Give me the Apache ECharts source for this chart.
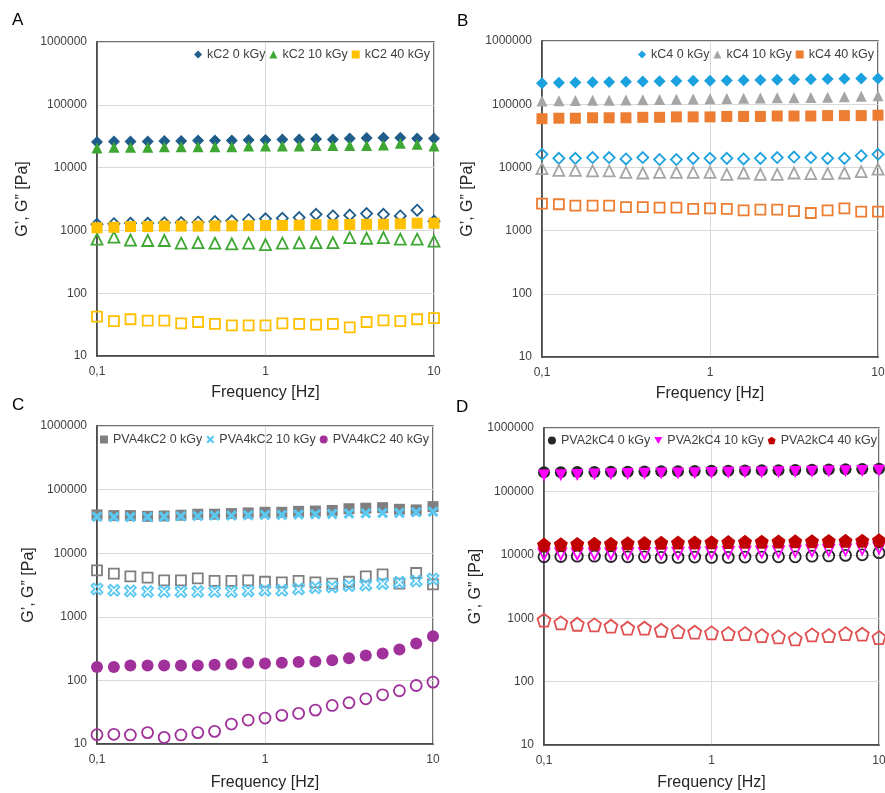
<!DOCTYPE html>
<html>
<head>
<meta charset="utf-8">
<script src="https://cdn.jsdelivr.net/npm/echarts@6/dist/echarts.min.js"></script>
<style>html,body{margin:0;padding:0;background:#fff;}#c{width:885px;height:793px;}</style>
</head>
<body>
<div id="c"></div>
<script>
// Frequency points (Hz)
const freq = [0.1, 0.126, 0.158, 0.2, 0.251, 0.316, 0.398, 0.501, 0.631, 0.794, 1, 1.259, 1.585, 1.995, 2.512, 3.162, 3.981, 5.012, 6.31, 7.943, 10];
const xTickLabels = ['0,1', '1', '10'];
const yTickLabels = ['10', '100', '1000', '10000', '100000', '1000000'];

// Panel A
const kC2_0_Gp  = [25500, 26000, 26000, 26000, 26500, 26500, 27000, 27000, 27000, 27500, 27500, 28000, 28000, 28500, 28000, 29000, 29500, 30000, 30000, 29000, 29000];
const kC2_0_Gpp = [1250, 1280, 1300, 1300, 1320, 1330, 1350, 1380, 1420, 1480, 1530, 1560, 1600, 1800, 1700, 1750, 1850, 1800, 1700, 2100, 1400];
const kC2_10_Gp  = [20500, 21000, 21000, 21000, 21500, 21500, 21500, 21500, 21500, 22000, 22000, 22000, 22000, 22500, 22500, 22500, 22500, 23000, 24500, 23500, 22000];
const kC2_10_Gpp = [725, 780, 700, 690, 690, 625, 640, 625, 610, 625, 595, 625, 635, 640, 640, 770, 750, 770, 725, 725, 675];
const kC2_40_Gp  = [1100, 1120, 1150, 1150, 1170, 1170, 1170, 1180, 1180, 1190, 1200, 1200, 1210, 1230, 1230, 1240, 1250, 1250, 1270, 1300, 1300];
const kC2_40_Gpp = [42.4, 36, 38.5, 36.6, 36.6, 33, 34.8, 32.4, 30.8, 30.8, 30.8, 33, 32.4, 31.6, 32.4, 28.6, 34.8, 37, 36, 38.5, 40];

// Panel B
const kC4_0_Gp  = [215000, 218000, 220000, 222000, 224000, 226000, 228000, 230000, 232000, 234000, 236000, 238000, 240000, 242000, 244000, 246000, 248000, 250000, 252000, 254000, 256000];
const kC4_0_Gpp = [16100, 13900, 13900, 14300, 14300, 13600, 14300, 13300, 13300, 13900, 13900, 13900, 13600, 13900, 14300, 14600, 14300, 13900, 13900, 15300, 16100];
const kC4_10_Gp  = [112000, 113000, 114000, 115000, 116000, 117000, 118000, 119000, 120000, 121000, 122000, 123000, 124000, 125000, 126000, 127000, 128000, 129000, 131000, 133000, 136000];
const kC4_10_Gpp = [9550, 9000, 9000, 8800, 8800, 8350, 8150, 8350, 8350, 8350, 8350, 7760, 8150, 7760, 7760, 8150, 7950, 7950, 8150, 8560, 9400];
const kC4_40_Gp  = [59000, 60000, 60000, 61000, 61000, 61000, 62000, 62000, 63000, 63000, 63000, 64000, 64000, 64000, 65000, 65000, 65000, 66000, 66000, 66000, 67000];
const kC4_40_Gpp = [2670, 2610, 2480, 2480, 2480, 2360, 2360, 2310, 2310, 2200, 2250, 2200, 2090, 2140, 2140, 2040, 1900, 2090, 2250, 1990, 1990];

// Panel C
const pva4_0_Gp  = [40000, 39000, 39000, 38000, 38500, 39500, 41000, 41000, 42000, 43000, 44000, 44000, 45500, 46000, 47000, 50000, 51000, 52000, 49000, 48000, 54000];
const pva4_0_Gpp = [5370, 4760, 4330, 4120, 3740, 3740, 4020, 3660, 3660, 3740, 3560, 3480, 3660, 3480, 3320, 3560, 4330, 4650, 3320, 4880, 3240];
const pva4_10_Gp  = [37500, 37000, 37000, 37000, 37500, 38000, 38500, 39000, 39000, 39500, 40000, 40000, 40500, 41000, 41500, 42000, 42500, 43000, 43000, 44000, 45000];
const pva4_10_Gpp = [2740, 2610, 2550, 2490, 2490, 2490, 2490, 2490, 2490, 2550, 2610, 2610, 2740, 2870, 2940, 3090, 3170, 3320, 3480, 3660, 3930];
const pva4_40_Gp  = [163, 163, 171, 171, 171, 171, 171, 176, 180, 189, 185, 189, 194, 198, 208, 223, 246, 265, 306, 380, 495];
const pva4_40_Gpp = [14.0, 14.2, 13.9, 15.1, 12.7, 13.9, 15.1, 15.8, 20.6, 23.8, 25.6, 28.2, 30.3, 34.1, 40.4, 44.5, 51.4, 59.4, 68.7, 83.2, 94];

// Panel D
const pva2_0_Gp  = [200000, 200000, 202000, 203000, 204000, 205000, 206000, 207000, 208000, 210000, 211000, 212000, 214000, 215000, 216000, 218000, 220000, 222000, 224000, 226000, 228000];
const pva2_0_Gpp = [9300, 9400, 9500, 9500, 9400, 9300, 9300, 9100, 9100, 9200, 9100, 9100, 9200, 9200, 9300, 9300, 9500, 9600, 9800, 10000, 10800];
const pva2_10_Gp  = [178000, 180000, 182000, 184000, 186000, 188000, 190000, 191000, 192000, 194000, 195000, 196000, 198000, 199000, 200000, 202000, 204000, 206000, 207000, 209000, 212000];
const pva2_10_Gpp = [10200, 10300, 10300, 10300, 10400, 10400, 10500, 10500, 10600, 10700, 10800, 10900, 11000, 11100, 11200, 11400, 11600, 11800, 12000, 12300, 12800];
const pva2_40_Gp  = [14500, 14700, 14800, 15000, 15000, 15200, 15400, 15500, 15600, 15700, 15800, 15900, 16000, 16100, 16200, 16300, 16400, 16500, 16600, 16700, 17000];
const pva2_40_Gpp = [930, 843, 803, 785, 748, 695, 695, 646, 616, 601, 587, 573, 573, 532, 507, 472, 546, 532, 573, 559, 495];

const FONT = 'Liberation Sans, Arial, Helvetica, sans-serif';
const SYM = {
  pentagon: 'path://M0,-1L0.951,-0.309L0.588,0.809L-0.588,0.809L-0.951,-0.309Z',
  xcross: 'path://M-1,-0.6L-0.6,-1L0,-0.4L0.6,-1L1,-0.6L0.4,0L1,0.6L0.6,1L0,0.4L-0.6,1L-1,0.6L-0.4,0Z',
  down: 'path://M-1,-0.85L1,-0.85L0,0.9Z'
};

function pts(arr) { return freq.map((f, i) => [f, arr[i]]); }
function ser(name, arr, gi, symbol, color, filled, size) {
  return {
    type: 'scatter', name: name, xAxisIndex: gi, yAxisIndex: gi,
    data: pts(arr), symbol: symbol, symbolSize: size,
    itemStyle: filled ? { color: color, opacity: 1 } :
      { color: 'rgba(255,255,255,0)', borderColor: color, borderWidth: 1.8, opacity: 1 },
    emphasis: { disabled: true }, silent: true
  };
}

const grids = [
  { left: 97, right: 451, top: 42, bottom: 437 },
  { left: 542, right: 7, top: 41, bottom: 436 },
  { left: 97, right: 452, top: 426, bottom: 49 },
  { left: 544, right: 6, top: 428, bottom: 48 }
];
const yNameGap = [66, 66, 52, 51];
const xNameGap = [29, 29, 31, 30];

const option = {
  animation: false,
  backgroundColor: '#fff',
  textStyle: { fontFamily: FONT },
  grid: grids.map(g => Object.assign({ show: true, borderColor: '#404040', borderWidth: 1.5, outerBoundsMode: 'none', containLabel: false }, g)),
  xAxis: grids.map((g, i) => ({
    type: 'log', logBase: 10, gridIndex: i, min: 0.1, max: 10,
    name: 'Frequency [Hz]', nameLocation: 'middle', nameGap: xNameGap[i],
    nameTextStyle: { fontSize: 16, color: '#262626', fontFamily: FONT },
    axisLine: { show: true, lineStyle: { color: '#404040', width: 1.5 } },
    axisTick: { show: false },
    axisLabel: { fontSize: 12, color: '#404040', margin: 10, fontFamily: FONT,
      formatter: v => v < 0.5 ? xTickLabels[0] : (v < 5 ? xTickLabels[1] : xTickLabels[2]) },
    splitLine: { show: true, lineStyle: { color: '#d9d9d9', width: 1 } }
  })),
  yAxis: grids.map((g, i) => ({
    type: 'log', logBase: 10, gridIndex: i, min: 10, max: 1000000,
    name: 'G\u2019, G\u201D [Pa]', nameLocation: 'middle', nameGap: yNameGap[i],
    nameTextStyle: { fontSize: 16, color: '#262626', fontFamily: FONT },
    axisLine: { show: true, lineStyle: { color: '#404040', width: 1.5 } },
    axisTick: { show: false },
    axisLabel: { fontSize: 12, color: '#404040', margin: 10, fontFamily: FONT,
      formatter: v => yTickLabels[Math.round(Math.log10(v)) - 1] },
    splitLine: { show: true, lineStyle: { color: '#d9d9d9', width: 1 } }
  })),
  legend: [
    { data: ['kC2 0 kGy', 'kC2 10 kGy', 'kC2 40 kGy'], right: 455, top: 48 },
    { data: ['kC4 0 kGy', 'kC4 10 kGy', 'kC4 40 kGy'], right: 11, top: 48 },
    { data: ['PVA4kC2 0 kGy', 'PVA4kC2 10 kGy', 'PVA4kC2 40 kGy'], right: 456, top: 433 },
    { data: ['PVA2kC4 0 kGy', 'PVA2kC4 10 kGy', 'PVA2kC4 40 kGy'], right: 8, top: 434 }
  ].map(l => Object.assign({ orient: 'horizontal', itemWidth: 8, itemHeight: 8, itemGap: 4, padding: 0,
      textStyle: { fontSize: 12.5, color: '#404040', fontFamily: FONT }, selectedMode: false }, l)),
  graphic: [
    { type: 'text', left: 12, top: 12, style: { text: 'A', fontSize: 17, fill: '#000', fontFamily: FONT } },
    { type: 'text', left: 457, top: 13, style: { text: 'B', fontSize: 17, fill: '#000', fontFamily: FONT } },
    { type: 'text', left: 12, top: 397, style: { text: 'C', fontSize: 17, fill: '#000', fontFamily: FONT } },
    { type: 'text', left: 456, top: 399, style: { text: 'D', fontSize: 17, fill: '#000', fontFamily: FONT } }
  ],
  series: [
    ser('kC2 0 kGy', kC2_0_Gp, 0, 'diamond', '#1F5C8A', true, 12),
    ser('kC2 0 kGy G\u2033', kC2_0_Gpp, 0, 'diamond', '#1F5C8A', false, 11),
    ser('kC2 10 kGy', kC2_10_Gp, 0, 'triangle', '#3EA733', true, 11),
    ser('kC2 10 kGy G\u2033', kC2_10_Gpp, 0, 'triangle', '#3EA733', false, 11),
    ser('kC2 40 kGy', kC2_40_Gp, 0, 'rect', '#FFC000', true, 11),
    ser('kC2 40 kGy G\u2033', kC2_40_Gpp, 0, 'rect', '#FFC000', false, 10),

    ser('kC4 0 kGy', kC4_0_Gp, 1, 'diamond', '#1BA1DE', true, 12),
    ser('kC4 0 kGy G\u2033', kC4_0_Gpp, 1, 'diamond', '#1BA1DE', false, 11),
    ser('kC4 10 kGy', kC4_10_Gp, 1, 'triangle', '#A5A5A5', true, 11),
    ser('kC4 10 kGy G\u2033', kC4_10_Gpp, 1, 'triangle', '#A5A5A5', false, 11),
    ser('kC4 40 kGy', kC4_40_Gp, 1, 'rect', '#ED7D31', true, 11),
    ser('kC4 40 kGy G\u2033', kC4_40_Gpp, 1, 'rect', '#ED7D31', false, 10),

    ser('PVA4kC2 0 kGy', pva4_0_Gp, 2, 'rect', '#7F7F7F', true, 11),
    ser('PVA4kC2 0 kGy G\u2033', pva4_0_Gpp, 2, 'rect', '#7F7F7F', false, 10),
    ser('PVA4kC2 10 kGy', pva4_10_Gp, 2, SYM.xcross, '#5BC8F2', true, 11),
    ser('PVA4kC2 10 kGy G\u2033', pva4_10_Gpp, 2, SYM.xcross, '#5BC8F2', false, 11),
    ser('PVA4kC2 40 kGy', pva4_40_Gp, 2, 'circle', '#A0309A', true, 12),
    ser('PVA4kC2 40 kGy G\u2033', pva4_40_Gpp, 2, 'circle', '#A0309A', false, 11),

    ser('PVA2kC4 0 kGy', pva2_0_Gp, 3, 'circle', '#262626', true, 12),
    ser('PVA2kC4 0 kGy G\u2033', pva2_0_Gpp, 3, 'circle', '#262626', false, 11),
    ser('PVA2kC4 10 kGy', pva2_10_Gp, 3, SYM.down, '#FF00FF', true, 12),
    ser('PVA2kC4 10 kGy G\u2033', pva2_10_Gpp, 3, SYM.down, '#FF00FF', false, 11),
    ser('PVA2kC4 40 kGy', pva2_40_Gp, 3, SYM.pentagon, '#C00000', true, 14),
    ser('PVA2kC4 40 kGy G\u2033', pva2_40_Gpp, 3, SYM.pentagon, '#E05050', false, 13)
  ]
};

const chart = echarts.init(document.getElementById('c'), null, { renderer: 'canvas' });
chart.setOption(option);
</script>
</body>
</html>
